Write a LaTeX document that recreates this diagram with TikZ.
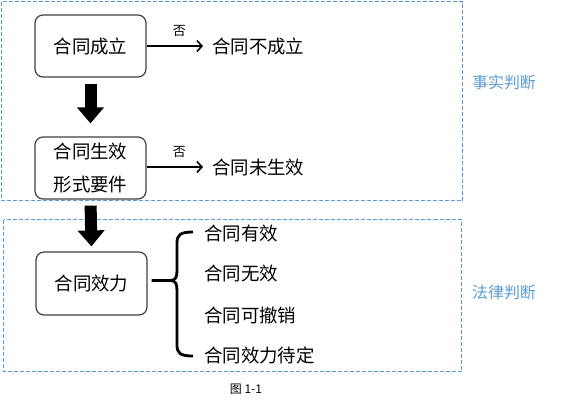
\documentclass[tikz,border=0pt]{standalone}
\usepackage{fontspec}
\newfontfamily\cjk{Noto Sans CJK SC}
\usetikzlibrary{arrows.meta,calc}
\definecolor{regionblue}{HTML}{5B9BD5}
\definecolor{boxgray}{HTML}{404040}
\begin{document}
\begin{tikzpicture}[x=1bp,y=-1bp,
  font=\cjk\fontsize{18.5}{22}\selectfont,
  box/.style={draw=boxgray, line width=1.2bp, rounded corners=8bp, minimum width=111bp, minimum height=62bp, align=center, inner sep=0pt},
  region/.style={draw=regionblue, dash pattern=on 4bp off 2bp, line width=1.1bp},
  regionlabel/.style={text=regionblue, font=\cjk\fontsize{16}{19}\selectfont},
  thinarrow/.style={line width=1.6bp, -{Straight Barb[length=5bp,width=11bp]}},
  blockarrow/.style={line width=12bp, -{Triangle[length=16bp,width=26bp]}},
  nolabel/.style={font=\cjk\fontsize{13}{15}\selectfont},
  item/.style={anchor=west, inner sep=0pt},
  bracepath/.style={line width=2.8bp}
]
\useasboundingbox (0,0) rectangle (575,412);
% regions
\draw[region] (1.5,1.5) rectangle (462.5,200.5);
\draw[region] (3.5,219.5) rectangle (461.5,371.5);
\node[regionlabel] (rl1) at (504,82) {事实判断};
\node[regionlabel] (rl2) at (504,292) {法律判断};
% boxes
\node[box] (b1) at (90.5,46) {合同成立};
\node[box, font=\cjk\fontsize{18.5}{33}\selectfont] (b2) at (90.5,168) {合同生效\\形式要件};
\node[box, minimum height=63bp] (b3) at (91.5,283.5) {合同效力};
% negative outcomes
\node[item] (n1) at (212,46) {合同不成立};
\node[item] (n2) at (212,167) {合同未生效};
\draw[thinarrow, shorten >=9bp] (b1.east) -- (n1.west) node[midway, above=5bp, nolabel] (f1) {否};
\draw[thinarrow, shorten >=9bp] (b2.east |- n2.west) -- (n2.west) node[midway, above=5bp, nolabel] (f2) {否};
% block arrows
\draw[blockarrow, shorten <=6bp, shorten >=13bp] (b1.south) -- (b2.north);
\draw[blockarrow, shorten <=6bp, shorten >=5bp] (b2.south) -- (b3.north);
% items
\node[item] (i1) at (204,233) {合同有效};
\node[item] (i2) at (204,273) {合同无效};
\node[item] (i3) at (204,315) {合同可撤销};
\node[item] (i4) at (204,355) {合同效力待定};
% brace
\coordinate (bs) at ($(b3.east)+(4,-3)$);
\coordinate (bm) at (170,280.5);
\draw[bracepath] (bs) -- (bm)
  .. controls (176,280.5) and (177,277) .. (177,270) -- (177,243)
  .. controls (177,235) and (180,232) .. (193,232);
\draw[bracepath] (bm)
  .. controls (176,280.5) and (177,284) .. (177,291) -- (177,345)
  .. controls (177,353) and (180,356) .. (193,356);
% caption
\node[font=\cjk\fontsize{12}{14}\selectfont] (cap) at (246,389) {图 1-1};
\end{tikzpicture}
\end{document}
